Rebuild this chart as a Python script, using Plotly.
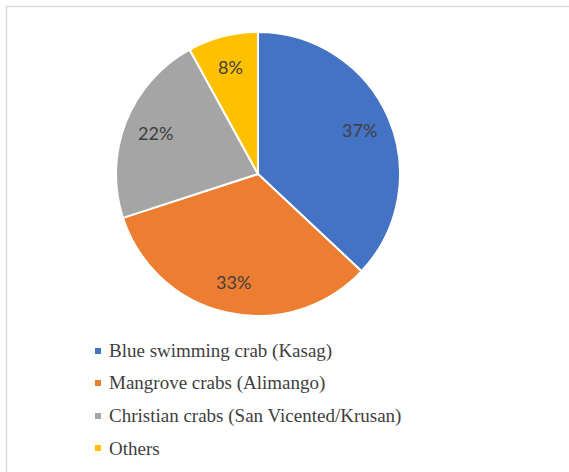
import math
import plotly.graph_objects as go

# Crab catch composition
categories = [
    "Blue swimming crab (Kasag)",
    "Mangrove crabs (Alimango)",
    "Christian crabs (San Vicented/Krusan)",
    "Others",
]
shares = [37, 33, 22, 8]
colors = ["#4472C4", "#ED7D31", "#A5A5A5", "#FFC000"]

W, H = 569, 472


def px(x):
    return x / W


def py(y):
    return 1 - y / H


# pie geometry in pixels
cx, cy, R = 258, 174, 142

fig = go.Figure(
    go.Pie(
        labels=categories,
        values=shares,
        sort=False,
        direction="clockwise",
        rotation=0,
        marker=dict(colors=colors, line=dict(color="white", width=2)),
        textinfo="none",
        hoverinfo="label+percent",
        showlegend=False,
        domain=dict(x=[px(cx - R), px(cx + R)], y=[py(cy + R), py(cy - R)]),
    )
)

annotations = []
shapes = []

# percentage labels placed at the middle angle of each slice
total = sum(shares)
cum = 0
for v in shares:
    mid = (cum + v / 2) / total * 2 * math.pi
    cum += v
    r = 0.78 * R
    lx = cx + r * math.sin(mid)
    ly = cy - r * math.cos(mid)
    annotations.append(
        dict(
            x=px(lx), y=py(ly), xref="paper", yref="paper",
            text=f"{round(v / total * 100)}%", showarrow=False,
            font=dict(family="Lato", size=18, color="#404040"),
            xanchor="center", yanchor="middle",
        )
    )

# legend below the pie
row_y = [351, 383, 416, 448]
for name, col, yy in zip(categories, colors, row_y):
    shapes.append(
        dict(
            type="rect", xref="paper", yref="paper",
            x0=px(95), x1=px(101), y0=py(yy + 3), y1=py(yy - 3),
            fillcolor=col, line=dict(width=0),
        )
    )
    annotations.append(
        dict(
            x=px(107), y=py(yy), xref="paper", yref="paper",
            text=name, showarrow=False,
            font=dict(family="Liberation Serif", size=19, color="#404040"),
            xanchor="left", yanchor="middle",
        )
    )

# chart area frame
shapes.append(
    dict(
        type="rect", xref="paper", yref="paper",
        x0=px(6.5), x1=px(W + 10), y0=py(H + 10), y1=py(6.5),
        line=dict(color="#D9D9D9", width=1.5), fillcolor="rgba(0,0,0,0)",
    )
)

fig.update_layout(
    width=W, height=H,
    margin=dict(l=0, r=0, t=0, b=0),
    paper_bgcolor="white",
    plot_bgcolor="white",
    annotations=annotations,
    shapes=shapes,
)

fig.write_html("out.html")
